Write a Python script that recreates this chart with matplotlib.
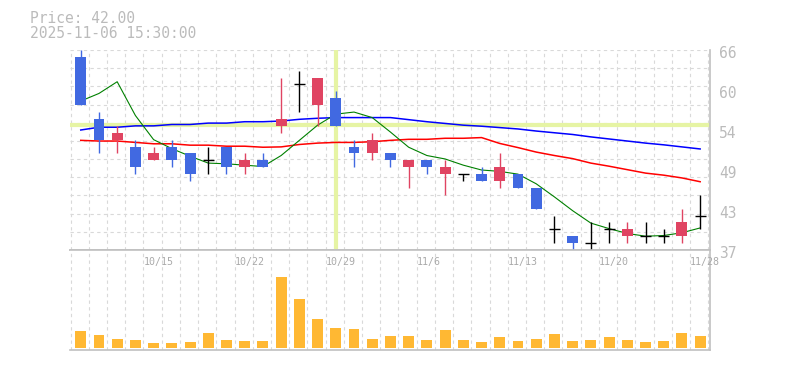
import matplotlib
matplotlib.use('Agg')
import matplotlib.pyplot as plt
import matplotlib.transforms as mtransforms
import numpy as np

#daily candles, 10/8 - 11/28
dates = ['10/8', '10/9', '10/10', '10/14', '10/15', '10/16', '10/17', '10/20', '10/21', '10/22',
         '10/23', '10/24', '10/27', '10/28', '10/29', '10/30', '10/31', '11/4', '11/5', '11/6',
         '11/7', '11/10', '11/11', '11/12', '11/13', '11/14', '11/17', '11/18', '11/19', '11/20',
         '11/21', '11/25', '11/26', '11/27', '11/28']
opens  = [65, 56, 53, 52, 50, 52, 51, 50, 52, 49, 50, 55, 61, 58, 59, 52, 51, 51, 49, 50,
          48, 48, 48, 47, 48, 46, 40, 39, 38, 40, 39, 39, 39, 39, 42]
highs  = [66, 57, 55, 53, 52, 53, 51, 52, 52, 51, 51, 62, 63, 62, 60, 53, 54, 51, 50, 50,
          50, 48, 49, 51, 48, 46, 42, 39, 41, 41, 41, 41, 40, 43, 45]
lows   = [58, 51, 51, 48, 50, 49, 47, 48, 48, 48, 49, 54, 57, 55, 55, 49, 50, 49, 46, 48,
          45, 47, 47, 46, 46, 43, 38, 37, 37, 38, 38, 38, 38, 38, 40]
closes = [58, 53, 54, 49, 51, 50, 48, 50, 49, 50, 49, 56, 61, 62, 55, 51, 53, 50, 50, 49,
          49, 48, 47, 49, 46, 43, 40, 38, 38, 40, 40, 39, 39, 41, 42]
volumes = [5100, 3900, 2700, 2400, 1500, 1500, 1800, 4500, 2400, 2100, 2100, 21400, 14700, 8700, 6000,
           5700, 2700, 3600, 3600, 2400, 5400, 2400, 1800, 3300, 2100, 2700, 4200, 2100, 2400, 3300,
           2400, 1800, 2100, 4500, 3600]

#moving averages
ma_short = [58.6, 59.7, 61.4, 56.5, 53.0, 51.7, 50.6, 49.6, 49.5, 49.3, 49.1, 50.7, 52.9, 55.1, 56.7,
            57.0, 56.2, 54.1, 51.9, 50.7, 50.2, 49.3, 48.6, 48.4, 48.0, 46.6, 44.7, 42.7, 40.9, 40.1,
            39.4, 39.0, 39.1, 39.5, 40.2]
ma_mid = [52.9, 52.8, 52.8, 52.6, 52.4, 52.4, 52.2, 52.2, 52.05, 52.05, 51.9, 51.95, 52.3, 52.5, 52.6,
          52.6, 52.7, 52.9, 53.05, 53.05, 53.2, 53.2, 53.3, 52.45, 51.85, 51.2, 50.7, 50.25, 49.6, 49.15,
          48.65, 48.15, 47.85, 47.45, 46.9]
ma_long = [54.4, 54.8, 54.8, 55.0, 55.0, 55.2, 55.2, 55.4, 55.4, 55.6, 55.6, 55.7, 55.95, 56.1, 56.2,
           56.2, 56.2, 56.2, 55.9, 55.6, 55.35, 55.1, 54.95, 54.75, 54.55, 54.25, 54.0, 53.75, 53.4, 53.1,
           52.8, 52.5, 52.25, 51.95, 51.65]
tick_dates = ['10/15', '10/22', '10/29', '11/6', '11/13', '11/20', '11/28']

cursor_price = 55.1
cursor_idx = 14

up_col = '#e04462'
down_col = '#4169e1'
grid_col = '#d9d9d9'
text_col = '#bbbbbb'
mono = 'DejaVu Sans Mono'

fig = plt.figure(figsize=(7.85, 3.70), dpi=100)
ax = fig.add_axes([70/785, 120/370, 640/785, 200/370])
axv = fig.add_axes([70/785, 20/370, 640/785, 100/370])

n = len(dates)
x = np.arange(n)
ymin, ymax = min(lows), max(highs)
xlim = (-0.59, n - 0.46)

for a in (ax, axv):
    a.set_xlim(*xlim)
    a.set_xticks([])
    a.set_yticks([])
    for s in ('left', 'top'):
        a.spines[s].set_visible(False)
    for s in ('right', 'bottom', 'top'):
        a.spines[s].set_color('#c0c0c0')
        a.spines[s].set_linewidth(1.2)
    #vertical dashed grid between candles
    for gx in np.arange(-1, n) + 0.44:
        a.axvline(gx, color=grid_col, lw=0.8, ls=(0, (3, 3)), zorder=0)
ax.spines['top'].set_visible(False)
axv.spines['top'].set_visible(True)

ax.set_ylim(ymin, ymax)
for gy in np.linspace(ymin, ymax, 12)[1:]:
    ax.axhline(gy, color=grid_col, lw=0.8, ls=(0, (3, 3)), zorder=0)

#cursor
ax.axhline(cursor_price, color='#e6f4a4', lw=3, zorder=1)
ax.axvline(cursor_idx, ymin=0.01, ymax=0.99, color='#e6f4a4', lw=3, zorder=1)

#moving averages
ax.plot(x, ma_long, color='#0000ff', lw=1.1, zorder=3)
ax.plot(x, ma_mid, color='#ff0000', lw=1.1, zorder=3)
ax.plot(x, ma_short, color='#008000', lw=0.8, zorder=3)

#candles
w = 0.6
for i in range(n):
    o, h, l, c = opens[i], highs[i], lows[i], closes[i]
    if c > o:
        col = up_col
    elif c < o:
        col = down_col
    else:
        col = 'black'
    ax.vlines(i, l, h, color=col, lw=1.0, zorder=4)
    if c == o:
        ax.hlines(c, i - w/2, i + w/2, color=col, lw=1.0, zorder=4)
    else:
        ax.bar(i, abs(c - o), bottom=min(o, c), width=w, color=col, zorder=5)

#price labels on the right
tr = mtransforms.offset_copy(ax.get_yaxis_transform(), fig=fig, x=9, y=-3, units='dots')
for v in np.linspace(ymin, ymax, 6):
    ax.text(1, v, '%.0f' % v, transform=tr, ha='left', va='center',
            fontsize=10.5, family=mono, color=text_col, clip_on=False)

#volume
axv.bar(x, volumes, width=w, color='#ffb833', zorder=2)
vmax = max(volumes)
axv.set_ylim(-0.028*vmax, 1.374*vmax)
for i, d in enumerate(dates):
    if d in tick_dates:
        axv.text(i - 0.55, 0.875, d, transform=axv.get_xaxis_transform(), ha='left', va='center',
                 fontsize=7.2, family=mono, color='#aaaaaa', clip_on=False, zorder=6)

fig.text(30/785, 1 - 23.3/370, 'Price: %.2f' % closes[-1], ha='left', va='baseline',
         fontsize=10.5, family=mono, color=text_col)
fig.text(30/785, 1 - 38.3/370, '2025-11-06 15:30:00', ha='left', va='baseline',
         fontsize=10.5, family=mono, color=text_col)

fig.savefig('out.png', dpi=100)
